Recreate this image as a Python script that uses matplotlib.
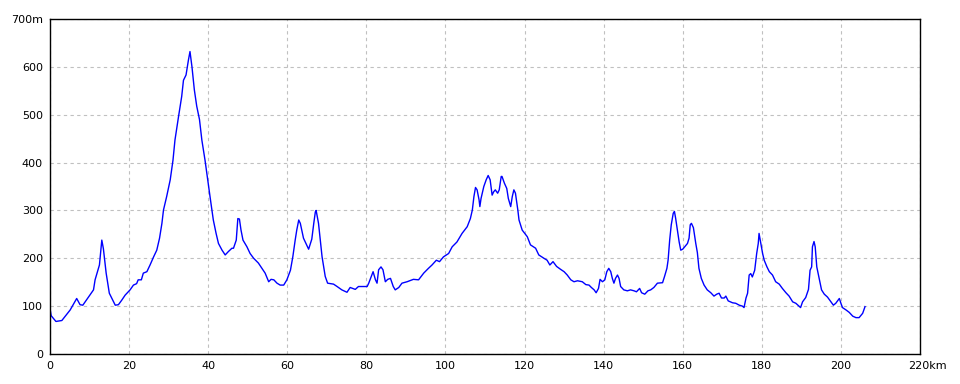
import matplotlib
matplotlib.use("Agg")
import matplotlib.pyplot as plt
import matplotlib.transforms as mtransforms

distance_km = [
    0.0, 0.3, 1.5, 3.0, 5.1, 6.75, 7.6, 8.3, 11.0, 11.4, 12.5, 13.1, 13.5, 14.2, 15.0,
    16.5, 17.3, 18.1, 19.0, 20.25, 21.1, 21.9, 22.3, 23.1, 23.6, 24.5, 25.3, 26.2, 27.0,
    27.7, 28.3, 28.7, 29.5, 30.4, 31.1, 31.6, 32.5, 33.3, 33.75, 34.4, 35.0, 35.4, 35.9,
    36.5, 37.1, 37.8, 38.4, 39.2, 40.1, 40.7, 41.3, 42.0, 42.6, 43.5, 44.3, 45.1, 46.0,
    46.4, 47.1, 47.5, 47.9, 48.3, 48.8, 49.8, 50.6, 51.5, 52.7, 53.6, 54.4, 55.3, 55.9,
    56.6, 57.4, 58.2, 59.1, 59.9, 60.8, 61.4, 62.0, 62.4, 62.9, 63.3, 64.1, 65.4, 66.2,
    66.7, 67.1, 67.3, 67.9, 68.8, 69.6, 70.2, 71.7, 72.6, 73.8, 75.1, 75.9, 77.2, 78.0,
    80.2, 80.6, 81.7, 82.3, 82.7, 83.1, 83.7, 84.2, 84.8, 85.4, 86.1, 86.8, 87.3, 88.2,
    89.0, 90.3, 91.9, 93.2, 94.5, 95.7, 96.6, 97.7, 98.5, 99.5, 100.8, 101.7, 102.9,
    104.2, 105.5, 106.3, 106.8, 107.2, 107.6, 108.0, 108.5, 108.7, 109.0, 109.7, 110.3,
    110.8, 111.3, 111.8, 112.2, 112.6, 113.2, 113.6, 114.1, 114.3, 114.9, 115.5, 115.9,
    116.5, 116.9, 117.3, 117.7, 118.3, 118.6, 119.4, 120.7, 121.5, 122.8, 123.6, 124.9,
    125.7, 126.4, 127.2, 128.1, 129.1, 130.0, 130.8, 131.7, 132.5, 133.4, 134.6, 135.5,
    136.3, 136.9, 137.6, 138.1, 138.7, 139.1, 139.7, 140.3, 140.8, 141.3, 141.8, 142.2,
    142.6, 143.0, 143.5, 143.9, 144.3, 145.1, 146.0, 146.8, 147.7, 148.3, 149.1, 149.6,
    150.4, 151.2, 151.9, 152.7, 153.6, 154.9, 155.4, 156.0, 156.3, 156.7, 157.1, 157.6,
    157.9, 158.2, 158.7, 159.1, 159.5, 160.0, 160.5, 161.2, 161.6, 161.9, 162.2, 162.7,
    163.3, 163.7, 164.1, 164.7, 165.4, 166.2, 167.1, 167.9, 168.6, 169.2, 169.8, 170.5,
    170.9, 171.5, 172.6, 173.4, 174.3, 175.1, 175.5, 176.0, 176.4, 176.8, 177.2, 177.6,
    178.2, 178.7, 179.1, 179.3, 179.8, 180.2, 180.6, 181.3, 181.9, 182.7, 183.5, 184.4,
    185.2, 186.1, 186.9, 187.8, 188.6, 189.4, 189.8, 190.3, 191.1, 191.8, 192.2, 192.6,
    192.8, 193.2, 193.5, 193.9, 194.5, 195.1, 195.8, 196.6, 197.5, 198.1, 198.7, 199.6,
    200.0, 200.4, 201.3, 202.1, 203.0, 203.8, 204.6, 205.5, 206.1,
]

elevation_m = [
    95, 80, 68, 70, 92, 116, 103, 102, 134, 155, 186, 238, 220, 169, 127,
    102, 103, 112, 123, 134, 144, 147, 155, 155, 169, 172, 186, 203, 217,
    242, 273, 301, 329, 364, 405, 447, 496, 538, 572, 583, 614, 632, 600,
    552, 518, 490, 447, 405, 350, 315, 280, 252, 231, 217, 207, 214, 221,
    221, 238, 283, 282, 259, 238, 224, 210, 200, 190, 179, 169, 151, 156,
    155, 148, 144, 144, 155, 175, 203, 238, 259, 280, 273, 242, 219, 240,
    273, 297, 300, 273, 203, 162, 148, 146, 141, 134, 129, 139, 135, 141,
    141, 148, 172, 155, 148, 176, 182, 176, 151, 156, 158, 141, 134, 139,
    148, 151, 156, 155, 169, 179, 186, 196, 193, 203, 210, 224, 234,
    252, 266, 283, 301, 329, 348, 343, 322, 308, 325, 350, 364,
    373, 364, 332, 339, 343, 336, 343, 371, 371, 357, 346, 325,
    308, 329, 343, 336, 301, 280, 259, 245, 228, 221, 207, 200,
    196, 186, 193, 183, 177, 172, 165, 155, 151, 153, 151, 145,
    144, 139, 134, 128, 137, 156, 151, 155, 172, 179, 172, 158,
    148, 158, 165, 158, 141, 134, 132, 134, 132, 130, 137, 128,
    125, 132, 134, 139, 148, 149, 162, 179, 196, 238, 270, 294,
    298, 284, 256, 234, 217, 219, 224, 231, 242, 270, 273, 264,
    231, 212, 179, 158, 144, 134, 128, 121, 125, 127, 117, 117,
    121, 111, 107, 106, 102, 100, 97, 117, 127, 165, 168, 161,
    175, 210, 231, 252, 228, 210, 196, 182, 172, 165, 151, 146,
    137, 128, 121, 109, 106, 100, 97, 109, 118, 135, 175, 182,
    224, 235, 224, 182, 158, 134, 125, 119, 109, 102, 106, 116,
    106, 97, 92, 87, 79, 76, 76, 85, 99,
]

x_ticks = [0, 20, 40, 60, 80, 100, 120, 140, 160, 180, 200, 220]
x_tick_labels = ["0", "20", "40", "60", "80", "100", "120", "140", "160", "180", "200", "220km"]
y_ticks = [0, 100, 200, 300, 400, 500, 600, 700]
y_tick_labels = ["0", "100", "200", "300", "400", "500", "600", "700m"]

fig = plt.figure(figsize=(9.6, 3.84), dpi=100)
ax = fig.add_axes([50 / 960, 1 - 354 / 384, 870 / 960, 335 / 384])
ax.plot(distance_km, elevation_m, color="#0000ff", linewidth=1.0)
ax.set_xlim(0, 220)
ax.set_ylim(0, 700)
ax.set_xticks(x_ticks)
ax.set_xticklabels(x_tick_labels)
ax.set_yticks(y_ticks)
ax.set_yticklabels(y_tick_labels)
ax.tick_params(axis="both", length=0, labelsize=8, colors="black")
ax.tick_params(axis="x", pad=5)
ax.tick_params(axis="y", pad=5)
ax.grid(True, color="#c0c0c0", linestyle=(0, (3, 3)), linewidth=0.8)
for s in ax.spines.values():
    s.set_color("black")
    s.set_linewidth(1.0)

# shift the "220km" label so that its number part sits centred under the tick
last = ax.get_xticklabels()[-1]
last.set_transform(last.get_transform() + mtransforms.ScaledTranslation(7 / 100, 0, fig.dpi_scale_trans))

fig.savefig("out.png", dpi=100)
